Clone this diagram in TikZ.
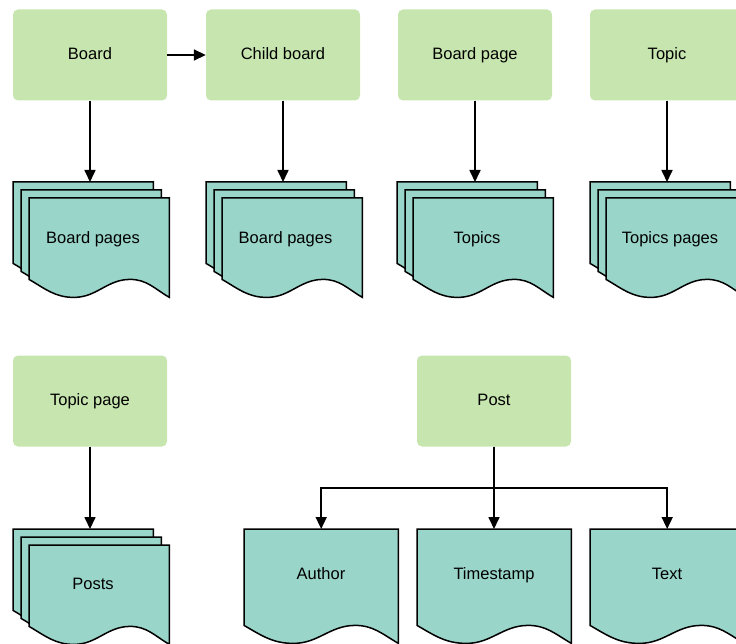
\documentclass[tikz,border=0pt]{standalone}
\usepackage{fontspec}
\setmainfont{Liberation Sans}
\usetikzlibrary{calc}
\usetikzlibrary{arrows.meta}
\definecolor{boxgreen}{HTML}{C7E6AF}
\definecolor{pageteal}{HTML}{9AD5CA}
\tikzstyle{entity}=[fill=boxgreen, rounded corners=5pt, minimum width=154pt, minimum height=91pt, inner sep=0, text height=12pt, text depth=3.5pt]
\tikzstyle{sheet}=[inner sep=0, minimum width=140pt, minimum height=99pt, anchor=north west]
\tikzstyle{single sheet}=[sheet, minimum width=154pt, minimum height=114pt]
\tikzstyle{sheet outline}=[fill=pageteal, draw=black, line width=1.5pt]
\tikzstyle{caption}=[inner sep=0, text height=12pt, text depth=3.5pt]
\tikzstyle{relation}=[-{Triangle[length=12pt, width=11pt]}, line width=1.7pt]
\newcommand{\wavesheet}[1]{%
  \filldraw[sheet outline] (#1.north west) -- (#1.north east) -- (#1.south east)
    to[out=150, in=0] ($(#1.south west)!0.72!(#1.south east) + (0,18pt)$)
    to[out=180, in=0] ($(#1.south west)!0.32!(#1.south east)$)
    to[out=180, in=-30] ([yshift=18pt]#1.south west) -- cycle;}

\begin{document}
\begin{tikzpicture}[x=1pt, y=-1pt, font=\fontsize{16.5}{20}\selectfont]
      \clip (0,0) rectangle (736,644);

      % first row
      \node[entity] (board) at (90,55) {Board};
      \node[entity] (child) at (283,55) {Child board};
      \node[entity] (boardpage) at (475,55) {Board page};
      \node[entity] (topic) at (667,55) {Topic};

      \node[sheet] (bp_back) at (13,182) {};
      \wavesheet{bp_back}
      \node[sheet] (bp_mid) at (21,190) {};
      \wavesheet{bp_mid}
      \node[sheet] (bp_front) at (29,198) {};
      \wavesheet{bp_front}
      \node[caption] (bp) at (93,239) {Board pages};

      \node[sheet] (cp_back) at (206,182) {};
      \wavesheet{cp_back}
      \node[sheet] (cp_mid) at (214,190) {};
      \wavesheet{cp_mid}
      \node[sheet] (cp_front) at (222,198) {};
      \wavesheet{cp_front}
      \node[caption] (cp) at (285.5,239) {Board pages};

      \node[sheet] (tp_back) at (397,182) {};
      \wavesheet{tp_back}
      \node[sheet] (tp_mid) at (405,190) {};
      \wavesheet{tp_mid}
      \node[sheet] (tp_front) at (413,198) {};
      \wavesheet{tp_front}
      \node[caption] (tp) at (477,239) {Topics};

      \node[sheet] (tpp_back) at (590,182) {};
      \wavesheet{tpp_back}
      \node[sheet] (tpp_mid) at (598,190) {};
      \wavesheet{tpp_mid}
      \node[sheet] (tpp_front) at (606,198) {};
      \wavesheet{tpp_front}
      \node[caption] (tpp) at (670,239) {Topics pages};

      \draw[relation] (board) -- (child);
      \draw[relation] (board) -- (board |- bp_back.north);
      \draw[relation] (child) -- (child |- cp_back.north);
      \draw[relation] (boardpage) -- (boardpage |- tp_back.north);
      \draw[relation] (topic) -- (topic |- tpp_back.north);

      % second row
      \node[entity] (topicpage) at (90,401) {Topic page};
      \node[entity] (post) at (494,401) {Post};

      \node[sheet] (ps_back) at (13,529) {};
      \wavesheet{ps_back}
      \node[sheet] (ps_mid) at (21,537) {};
      \wavesheet{ps_mid}
      \node[sheet] (ps_front) at (29,545) {};
      \wavesheet{ps_front}
      \node[caption] (ps) at (93,585) {Posts};

      \node[single sheet] (author_page) at (244,529) {};
      \wavesheet{author_page}
      \node[caption] (author) at (321,575) {Author};
      \node[single sheet] (stamp_page) at (417,529) {};
      \wavesheet{stamp_page}
      \node[caption] (stamp) at (494,575) {Timestamp};
      \node[single sheet] (text_page) at (590,529) {};
      \wavesheet{text_page}
      \node[caption] (text) at (667,575) {Text};

      \draw[relation] (topicpage) -- (topicpage |- ps_back.north);
      \draw[relation] (post) -- (post |- stamp_page.north);
      \draw[relation] (post.south) |- ([yshift=41pt]author_page.north) -- (author_page.north);
      \draw[relation] (post.south) |- ([yshift=41pt]text_page.north) -- (text_page.north);
    \end{tikzpicture}
\end{document}
